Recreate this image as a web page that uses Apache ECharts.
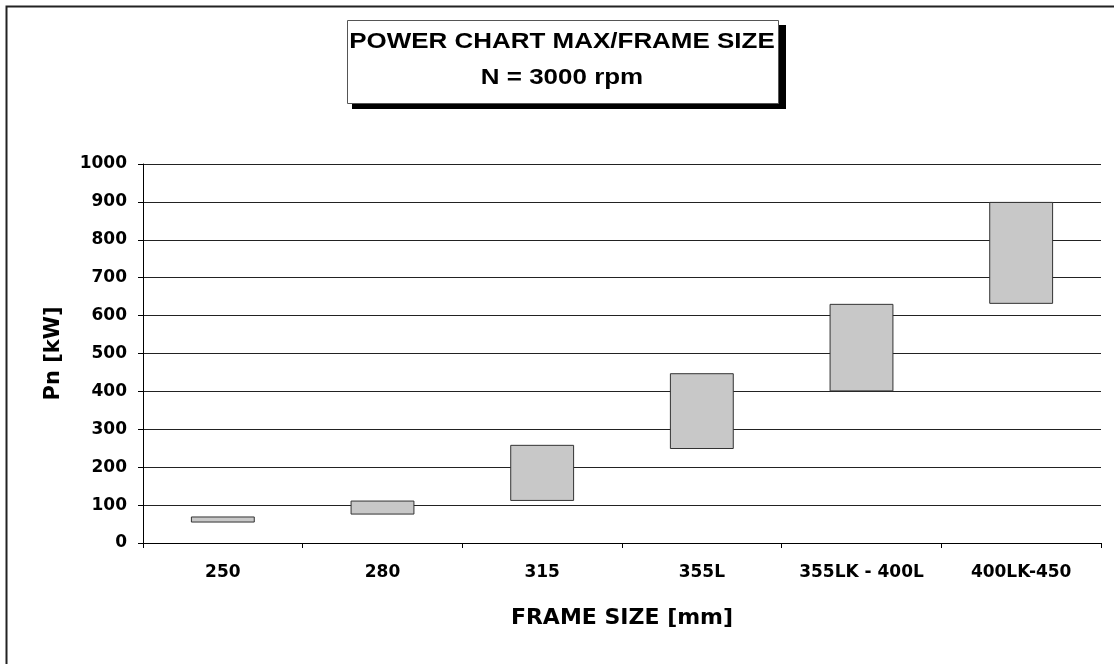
<!DOCTYPE html>
<html>
<head>
<meta charset="utf-8">
<script src="https://cdn.jsdelivr.net/npm/echarts@6/dist/echarts.min.js"></script>
<style>
html,body{margin:0;padding:0;background:#fff;}
#chart{width:1114px;height:664px;}
</style>
</head>
<body>
<div id="chart"></div>
<script>
const categories = ['250', '280', '315', '355L', '355LK - 400L', '400LK-450'];
const lowValues = [54, 75, 111, 248, 400, 631];
const highValues = [70, 112, 259, 448, 631, 900];
const yTicks = { min: 0, max: 1000, interval: 100 };
const titleLines = ['POWER CHART MAX/FRAME SIZE', 'N = 3000 rpm'];
const xName = 'FRAME SIZE [mm]';
const yName = 'Pn [kW]';

const FONT = '"DejaVu Sans", "Liberation Sans", Arial, sans-serif';
const TFONT = '"Liberation Sans", Arial, sans-serif';
const rangeValues = highValues.map((h, i) => h - lowValues[i]);

const chart = echarts.init(document.getElementById('chart'));
chart.setOption({
  animation: false,
  backgroundColor: '#fff',
  grid: { left: 143, right: 13, top: 164, bottom: 121, containLabel: false },
  xAxis: {
    type: 'category',
    data: categories,
    boundaryGap: true,
    name: xName,
    nameLocation: 'middle',
    nameGap: 64,
    nameTextStyle: { fontFamily: FONT, fontWeight: 'bold', fontSize: 22, color: '#000' },
    axisLine: { lineStyle: { color: '#000', width: 1 } },
    axisTick: { show: true, length: 5, alignWithLabel: false, lineStyle: { color: '#000' } },
    axisLabel: { fontFamily: FONT, fontWeight: 'bold', fontSize: 17, color: '#000', margin: 21, interval: 0 },
    splitLine: { show: false }
  },
  yAxis: {
    type: 'value',
    min: yTicks.min,
    max: yTicks.max,
    interval: yTicks.interval,
    name: yName,
    nameLocation: 'middle',
    nameGap: 79,
    nameRotate: 90,
    nameTextStyle: { fontFamily: FONT, fontWeight: 'bold', fontSize: 21, color: '#000' },
    axisLine: { show: true, lineStyle: { color: '#000', width: 1 } },
    axisTick: { show: true, length: 5, lineStyle: { color: '#000' } },
    axisLabel: { fontFamily: FONT, fontWeight: 'bold', fontSize: 17, color: '#000', margin: 16, formatter: v => String(v) },
    splitLine: { show: true, lineStyle: { color: '#222', width: 1 } }
  },
  series: [
    {
      type: 'bar',
      stack: 'range',
      data: lowValues,
      barWidth: '40%',
      itemStyle: { color: 'transparent', borderWidth: 0 },
      silent: true
    },
    {
      type: 'bar',
      stack: 'range',
      data: rangeValues,
      barWidth: '40%',
      itemStyle: { color: '#c8c8c8', borderColor: '#333', borderWidth: 1 }
    }
  ],
  graphic: [
    {
      type: 'rect',
      shape: { x: 6.5, y: 6.5, width: 1200, height: 800 },
      style: { fill: 'none', stroke: '#222', lineWidth: 2 },
      silent: true, z: 100
    },
    {
      type: 'rect',
      shape: { x: 352, y: 25, width: 434, height: 84 },
      style: { fill: '#000' },
      silent: true, z: 100
    },
    {
      type: 'rect',
      shape: { x: 347.5, y: 20.5, width: 431, height: 83 },
      style: { fill: '#fff', stroke: '#555', lineWidth: 1 },
      silent: true, z: 101
    },
    {
      type: 'text',
      x: 562, y: 42, scaleX: 1.18,
      style: { text: titleLines[0], fontFamily: TFONT, fontWeight: 'bold', fontSize: 22, fill: '#000', align: 'center', verticalAlign: 'middle' },
      silent: true, z: 102
    },
    {
      type: 'text',
      x: 562, y: 78, scaleX: 1.18,
      style: { text: titleLines[1], fontFamily: TFONT, fontWeight: 'bold', fontSize: 22, fill: '#000', align: 'center', verticalAlign: 'middle' },
      silent: true, z: 102
    }
  ]
});
</script>
</body>
</html>
